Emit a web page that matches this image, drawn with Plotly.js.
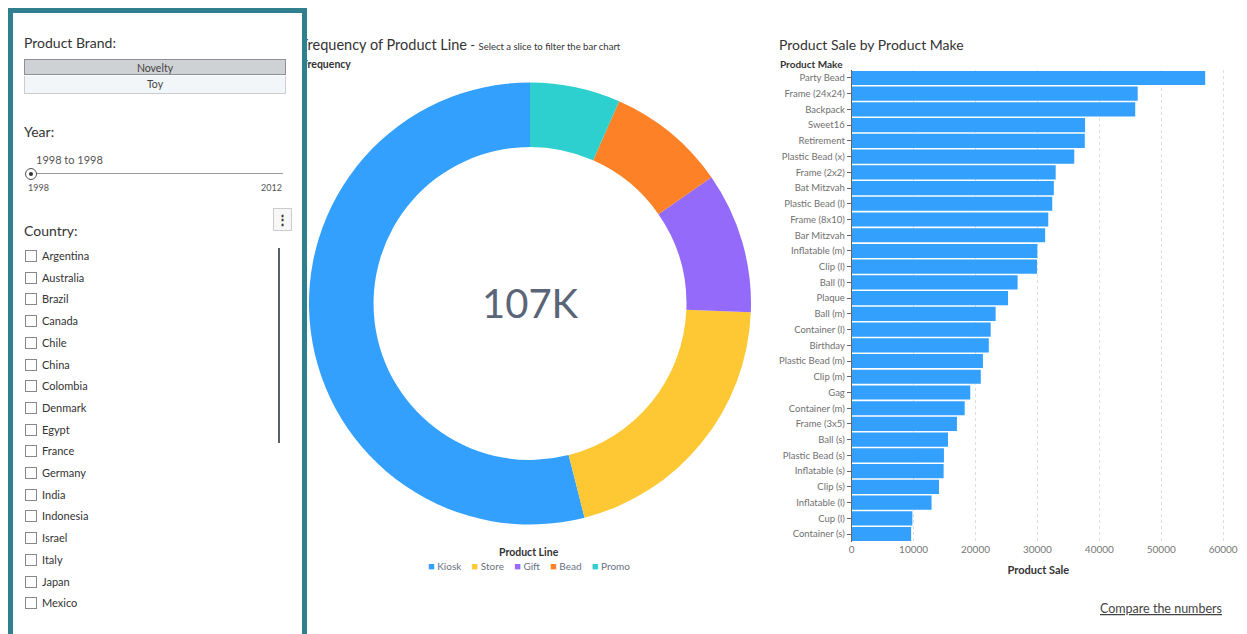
<!DOCTYPE html>
<html>
<head>
<meta charset="utf-8">
<script src="https://cdn.plot.ly/plotly-3.0.1.min.js"></script>
<style>
  html, body { margin:0; padding:0; background:#fff; width:1247px; height:634px; overflow:hidden; font-family: Lato, "Open Sans", sans-serif; }
  #chart { position:absolute; left:0; top:0; width:1247px; height:634px; }
  #side { position:absolute; left:8px; top:8px; width:289px; height:660px; border:5px solid #2f7f8e; background:#fff; z-index:5; color:#333; }
  .lbl { position:absolute; left:11px; font-size:14px; color:#333; }
  .brand { position:absolute; left:11px; width:262px; height:16px; font-size:10.5px; text-align:center; line-height:16px; color:#444; box-sizing:border-box; }
  .cb { position:absolute; left:12px; font-size:11px; color:#333; line-height:12px; }
  .cb span.box { display:inline-block; width:10px; height:10px; border:1px solid #888; vertical-align:-2px; margin-right:5px; background:#fff; }
</style>
</head>
<body>
<div id="chart"></div>
<div id="side">
  <div class="lbl" style="top:21px;">Product Brand:</div>
  <div class="brand" style="top:46px; background:#cfd2d5; border:1px solid #8d9096;">Novelty</div>
  <div class="brand" style="top:63px; height:18px; background:#f2f6f9; border:1px solid #c9ccd0; border-top:none;">Toy</div>
  <div class="lbl" style="top:110px;">Year:</div>
  <div style="position:absolute; left:23px; top:140px; font-size:11px; color:#555;">1998 to 1998</div>
  <div style="position:absolute; left:20px; top:160px; width:250px; height:1px; background:#9a9a9a;"></div>
  <div style="position:absolute; left:12px; top:155px; width:10px; height:10px; border:1px solid #555; border-radius:50%; background:#fff;"></div>
  <div style="position:absolute; left:16px; top:159px; width:4px; height:4px; border-radius:50%; background:#333;"></div>
  <div style="position:absolute; left:15px; top:169px; font-size:9px; color:#555;">1998</div>
  <div style="position:absolute; left:248px; top:169px; font-size:9px; color:#555;">2012</div>
  <div style="position:absolute; left:260px; top:195px; width:17px; height:21px; border:1px solid #ccc; background:#f7f7f7; font-size:13px; text-align:center; line-height:20px; font-weight:bold; color:#333;">&#8942;</div>
  <div class="lbl" style="top:209px;">Country:</div>
  <div style="position:absolute; left:265px; top:235px; width:2px; height:195px; background:#5a5f6e;"></div>
  <div id="countries"></div>
</div>
<script>
// ----- data -----
var productLines = ["Kiosk", "Store", "Gift", "Bead", "Promo"];
var productLineFreq = [57750, 21820, 11030, 9330, 7070];
var productLineColors = ["#33a0fd", "#fdc833", "#946afa", "#fd8127", "#2ecfcf"];
var totalLabel = "107K";

var productMakes = ["Party Bead", "Frame (24x24)", "Backpack", "Sweet16", "Retirement", "Plastic Bead (x)",
  "Frame (2x2)", "Bat Mitzvah", "Plastic Bead (l)", "Frame (8x10)", "Bar Mitzvah", "Inflatable (m)", "Clip (l)",
  "Ball (l)", "Plaque", "Ball (m)", "Container (l)", "Birthday", "Plastic Bead (m)", "Clip (m)", "Gag",
  "Container (m)", "Frame (3x5)", "Ball (s)", "Plastic Bead (s)", "Inflatable (s)", "Clip (s)", "Inflatable (l)",
  "Cup (l)", "Container (s)"];
var productSales = [57100, 46200, 45800, 37700, 37650, 35950, 32950, 32650, 32400, 31750, 31250, 29980, 29930,
  26800, 25250, 23250, 22450, 22150, 21200, 20850, 19150, 18250, 17000, 15550, 14900, 14850, 14100, 12900,
  9800, 9600];

var countries = ["Argentina", "Australia", "Brazil", "Canada", "Chile", "China", "Colombia", "Denmark", "Egypt",
  "France", "Germany", "India", "Indonesia", "Israel", "Italy", "Japan", "Mexico"];

// sidebar country list
var cdiv = document.getElementById('countries');
countries.forEach(function (c, i) {
  var d = document.createElement('div');
  d.className = 'cb';
  d.style.top = (237 + i * 21.7) + 'px';
  d.innerHTML = '<span class="box"></span>' + c;
  cdiv.appendChild(d);
});

var W = 1247, H = 634;
function px(x) { return x / W; }
function py(y) { return 1 - y / H; }

var totalFreq = productLineFreq.reduce(function (a, b) { return a + b; }, 0);
// first slice (Kiosk) runs counter-clockwise from 12 o'clock
var pieRotation = 360 - 360 * productLineFreq[0] / totalFreq;

var pie = {
  type: 'pie',
  labels: productLines,
  values: productLineFreq,
  marker: { colors: productLineColors, line: { width: 0 } },
  hole: 0.708,
  sort: false,
  direction: 'counterclockwise',
  rotation: pieRotation,
  textinfo: 'none',
  hoverinfo: 'label+value',
  domain: { x: [px(309), px(751)], y: [py(525), py(82)] },
  showlegend: false
};

var bar = {
  type: 'bar',
  orientation: 'h',
  y: productMakes,
  x: productSales,
  marker: { color: '#33a0fd' },
  showlegend: false,
  xaxis: 'x',
  yaxis: 'y'
};

var font = 'Lato, "Open Sans", sans-serif';

// compact legend (square + label) built from the product line arrays
var legendText = productLines.map(function (l, i) {
  return '<span style="color:' + productLineColors[i] + ';font-size:11px">\u25A0</span>\u00a0' + l;
}).join('\u00a0\u00a0\u00a0\u00a0');

var layout = {
  width: W, height: H,
  margin: { l: 0, r: 0, t: 0, b: 0 },
  paper_bgcolor: '#fff',
  plot_bgcolor: '#fff',
  font: { family: font, color: '#444' },
  bargap: 0.1,
  showlegend: false,
  xaxis: {
    domain: [px(851.7), px(1225)],
    range: [0, 60300],
    tickformat: 'd',
    dtick: 10000,
    showgrid: true,
    gridcolor: '#dedede',
    griddash: 'dot',
    zeroline: false,
    showline: false,
    ticks: '',
    tickfont: { size: 10, color: '#777', family: font },
    anchor: 'y',
    title: { text: '<b>Product Sale</b>', font: { size: 11, color: '#333', family: font }, standoff: 12 }
  },
  yaxis: {
    domain: [py(541.9), py(70.1)],
    autorange: 'reversed',
    showgrid: false,
    showline: true,
    linecolor: '#666',
    linewidth: 1,
    ticks: 'outside',
    ticklen: 4,
    tickcolor: '#666',
    tickfont: { size: 9.5, color: '#707070', family: font },
    anchor: 'x'
  },
  annotations: [
    { xref: 'paper', yref: 'paper', x: px(298), y: py(44), xanchor: 'left', yanchor: 'middle', showarrow: false,
      text: '<span style="font-size:14.5px">Frequency of Product Line</span> - <span style="font-size:9.5px">Select a slice to filter the bar chart</span>',
      font: { size: 13, color: '#333', family: font } },
    { xref: 'paper', yref: 'paper', x: px(300), y: py(64), xanchor: 'left', yanchor: 'middle', showarrow: false,
      text: '<b>Frequency</b>', font: { size: 10.5, color: '#333', family: font } },
    { xref: 'paper', yref: 'paper', x: px(530), y: py(303), xanchor: 'center', yanchor: 'middle', showarrow: false,
      text: totalLabel, font: { size: 40, color: '#5b6578', family: font } },
    { xref: 'paper', yref: 'paper', x: px(777), y: py(44), xanchor: 'left', yanchor: 'middle', showarrow: false,
      text: 'Product Sale by Product Make', font: { size: 14, color: '#333', family: font } },
    { xref: 'paper', yref: 'paper', x: px(777.5), y: py(64), xanchor: 'left', yanchor: 'middle', showarrow: false,
      text: '<b>Product Make</b>', font: { size: 10, color: '#333', family: font } },
    { xref: 'paper', yref: 'paper', x: px(529), y: py(552), xanchor: 'center', yanchor: 'middle', showarrow: false,
      text: '<b>Product Line</b>', font: { size: 10.5, color: '#333', family: font } },
    { xref: 'paper', yref: 'paper', x: px(529), y: py(565), xanchor: 'center', yanchor: 'middle', showarrow: false,
      text: legendText, font: { size: 10, color: '#6b7280', family: font } },
    { xref: 'paper', yref: 'paper', x: px(1224), y: py(608), xanchor: 'right', yanchor: 'middle', showarrow: false,
      text: '<span style="text-decoration:underline">Compare the numbers</span>', font: { size: 12.5, color: '#444', family: font } }
  ]
};

Plotly.newPlot('chart', [pie, bar], layout, { displayModeBar: false });
</script>
</body>
</html>
